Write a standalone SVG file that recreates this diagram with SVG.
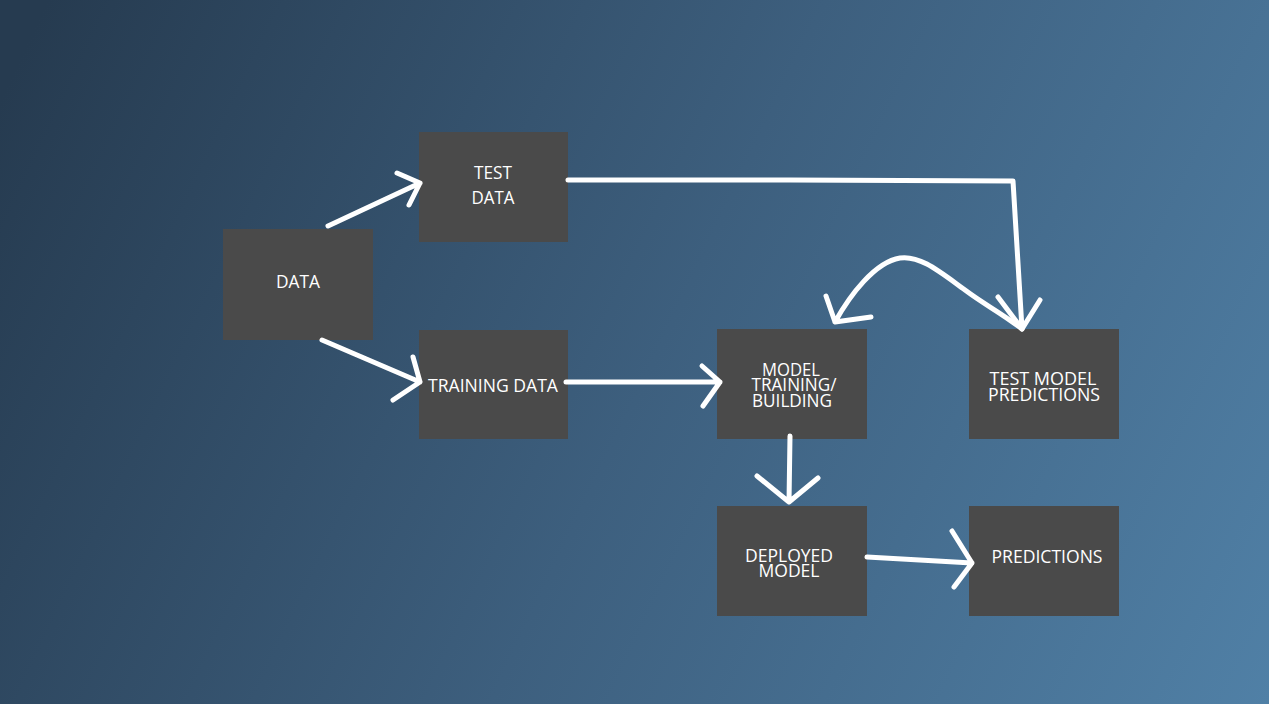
<svg xmlns="http://www.w3.org/2000/svg" width="1269" height="704" viewBox="0 0 1269 704">
<defs>
<linearGradient id="bg" gradientUnits="userSpaceOnUse" x1="0" y1="100" x2="1269" y2="704">
<stop offset="0" stop-color="#263b50"/>
<stop offset="0.5" stop-color="#3d5f7e"/>
<stop offset="1" stop-color="#5080a6"/>
</linearGradient>
<style>
.box{fill:#4a4a4a}
.t{font-family:"Open Sans","Liberation Sans",sans-serif;font-size:18px;fill:#ffffff;text-anchor:middle}
.c{fill:none;stroke:#ffffff;stroke-width:5;stroke-linecap:round;stroke-linejoin:round}
</style>
</defs>
<rect x="0" y="0" width="1269" height="704" fill="url(#bg)"/>
<g id="data"><rect class="box" x="223" y="229" width="150" height="111"/><text class="t" x="298" y="288" textLength="44" lengthAdjust="spacingAndGlyphs">DATA</text></g>
<g id="test-data"><rect class="box" x="419" y="132" width="149" height="110"/><text class="t" x="493" y="179" textLength="38" lengthAdjust="spacingAndGlyphs">TEST</text><text class="t" x="493" y="204" textLength="43" lengthAdjust="spacingAndGlyphs">DATA</text></g>
<g id="training-data"><rect class="box" x="419" y="330" width="149" height="109"/><text class="t" x="493" y="392" textLength="130" lengthAdjust="spacingAndGlyphs">TRAINING DATA</text></g>
<g id="model-training"><rect class="box" x="717" y="329" width="150" height="110"/><text class="t" x="791" y="376" textLength="58" lengthAdjust="spacingAndGlyphs">MODEL</text><text class="t" x="794" y="391" textLength="85" lengthAdjust="spacingAndGlyphs">TRAINING/</text><text class="t" x="792" y="407" textLength="80" lengthAdjust="spacingAndGlyphs">BUILDING</text></g>
<g id="test-model-predictions"><rect class="box" x="969" y="329" width="150" height="110"/><text class="t" x="1043" y="385" textLength="107" lengthAdjust="spacingAndGlyphs">TEST MODEL</text><text class="t" x="1044" y="401" textLength="112" lengthAdjust="spacingAndGlyphs">PREDICTIONS</text></g>
<g id="deployed-model"><rect class="box" x="717" y="506" width="150" height="110"/><text class="t" x="789" y="562" textLength="88" lengthAdjust="spacingAndGlyphs">DEPLOYED</text><text class="t" x="789" y="577" textLength="61" lengthAdjust="spacingAndGlyphs">MODEL</text></g>
<g id="predictions"><rect class="box" x="969" y="506" width="150" height="110"/><text class="t" x="1047" y="563" textLength="111" lengthAdjust="spacingAndGlyphs">PREDICTIONS</text></g>
<g id="connectors">
<path class="c" d="M328,226 L420,183 M397,173 L420,183 L409,205"/>
<path class="c" d="M322,340 L420,382 M413,357 L420,382 L393,400"/>
<path class="c" d="M568,180 L790,180 L1013,181 L1022,329 M998,297 L1022,329 L1040,300"/>
<path class="c" d="M566,382 L720,382 M702,366 L720,382 L703,406"/>
<path class="c" d="M1022,329 C1000,312 985,305 965,290 C940,272 920,255 900,258 C875,262 850,295 835,322 M826,296 L835,322 L871,317"/>
<path class="c" d="M790,436 L789,502 M757,476 L789,502 L818,478"/>
<path class="c" d="M867,557 L972,563 M952,531 L972,563 L954,587"/>
</g>
</svg>
